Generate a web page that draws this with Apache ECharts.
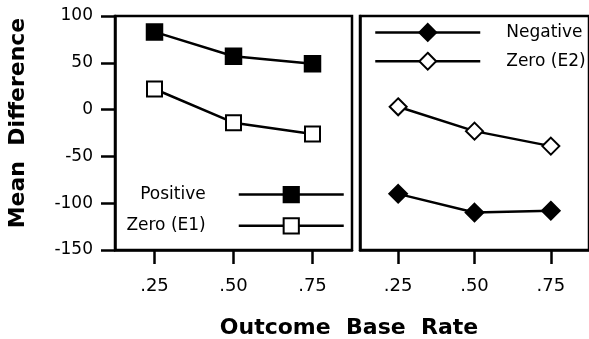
<!DOCTYPE html>
<html>
<head>
<meta charset="utf-8">
<script src="https://cdn.jsdelivr.net/npm/echarts@6/dist/echarts.min.js"></script>
<style>
html,body{margin:0;padding:0;background:#fff;}
#chart{width:589px;height:339px;}
</style>
</head>
<body>
<div id="chart"></div>
<script>
// ---- data ----
var categories = ['.25', '.50', '.75'];
var positive = [83, 57, 49];
var zeroE1 = [22, -14, -26];
var negative = [-90, -110, -108];
var zeroE2 = [3, -23, -39];
var yTicks = { min: -150, max: 100, interval: 50 };
var xTitle = 'Outcome  Base  Rate';
var yTitle = 'Mean  Difference';

var FONT = 'DejaVu Sans';
var INK = '#000';

var chart = echarts.init(document.getElementById('chart'), null, { renderer: 'canvas' });

function xAxisFor(idx) {
  return {
    type: 'category', gridIndex: idx, data: categories, boundaryGap: true,
    axisLine: { show: true, onZero: false, lineStyle: { color: '#000', width: 2.5 } },
    axisTick: { show: true, alignWithLabel: true, inside: false, length: 14, lineStyle: { color: '#000', width: 2.5 } },
    axisLabel: { margin: 27, fontFamily: FONT, fontSize: 18, color: INK },
    splitLine: { show: false }
  };
}

function lineSeries(name, data, xi, symbol, size) {
  return {
    name: name, type: 'line', xAxisIndex: xi, yAxisIndex: xi, data: data,
    symbol: symbol, symbolSize: size, showSymbol: true,
    color: '#000',
    lineStyle: { color: '#000', width: 2.5 },
    itemStyle: { color: '#000', borderColor: '#000', borderWidth: 2.5 },
    emphasis: { disabled: true },
    z: 3
  };
}

var option = {
  backgroundColor: '#fff',
  animation: false,
  grid: [
    { left: 115, top: 16, width: 237, height: 234, show: true, borderColor: '#000', borderWidth: 2.5, backgroundColor: 'transparent' },
    { left: 360, top: 16, width: 234, height: 234, show: true, borderColor: '#000', borderWidth: 2.5, backgroundColor: 'transparent' }
  ],
  xAxis: [xAxisFor(0), xAxisFor(1)],
  yAxis: [
    {
      type: 'value', gridIndex: 0, min: yTicks.min, max: yTicks.max, interval: yTicks.interval,
      axisLine: { show: true, onZero: false, lineStyle: { color: '#000', width: 2.5 } },
      axisTick: { show: true, inside: false, length: 14, lineStyle: { color: '#000', width: 2.5 } },
      axisLabel: { margin: 22, fontFamily: FONT, fontSize: 17, color: INK },
      splitLine: { show: false }
    },
    {
      type: 'value', gridIndex: 1, min: yTicks.min, max: yTicks.max, interval: yTicks.interval,
      axisLine: { show: true, onZero: false, lineStyle: { color: '#000', width: 2.5 } },
      axisTick: { show: false }, axisLabel: { show: false }, splitLine: { show: false }
    }
  ],
  legend: [
    {
      data: ['Positive', 'Zero (E1)'], orient: 'vertical', align: 'right',
      right: 239, top: 181, itemWidth: 105, itemHeight: 19, itemGap: 14,
      selectedMode: false,
      lineStyle: { width: 2.5, color: '#000' },
      textStyle: { fontFamily: FONT, fontSize: 17, color: INK, padding: [0, 28, 0, 0] }
    },
    {
      data: ['Negative', 'Zero (E2)'], orient: 'vertical', align: 'left',
      left: 369, top: 18, itemWidth: 105, itemHeight: 21, itemGap: 10,
      selectedMode: false,
      lineStyle: { width: 2.5, color: '#000' },
      textStyle: { fontFamily: FONT, fontSize: 17, color: INK, padding: [0, 0, 0, 21] }
    }
  ],
  graphic: [
    { type: 'text', x: 349, y: 328, style: { text: xTitle, font: 'bold 22px "DejaVu Sans"', fill: INK, textAlign: 'center', textVerticalAlign: 'middle' } },
    { type: 'text', x: 18, y: 123, rotation: Math.PI / 2, style: { text: yTitle, font: 'bold 22px "DejaVu Sans"', fill: INK, textAlign: 'center', textVerticalAlign: 'middle' } }
  ],
  series: [
    lineSeries('Positive', positive, 0, 'rect', 15),
    lineSeries('Zero (E1)', zeroE1, 0, 'emptyRect', 15),
    lineSeries('Negative', negative, 1, 'diamond', 17),
    lineSeries('Zero (E2)', zeroE2, 1, 'emptyDiamond', 17)
  ]
};
chart.setOption(option);
</script>
</body>
</html>
